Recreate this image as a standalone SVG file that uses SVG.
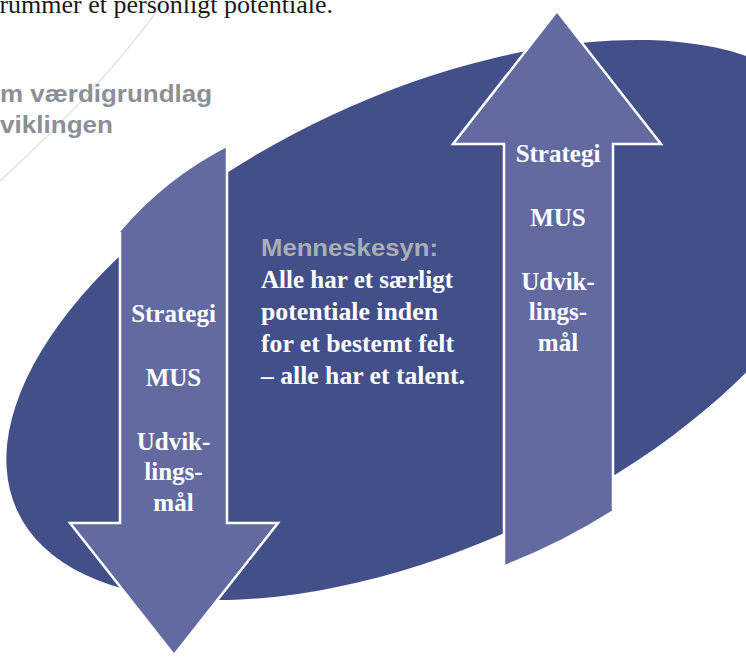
<svg xmlns="http://www.w3.org/2000/svg" width="746" height="657" viewBox="0 0 746 657">
  <style>
    .serif { font-family: "Liberation Serif", "DejaVu Serif", serif; }
    .sans { font-family: "Liberation Sans", Arial, sans-serif; font-weight: bold; }
    .arrowfill { fill: #626a9f; stroke: none; }
    .arrowline { fill: none; stroke: #ffffff; stroke-width: 2.5; stroke-linejoin: miter; stroke-miterlimit: 10; }
    .atext { fill: #ffffff; font-weight: bold; font-size: 25px; text-anchor: middle; }
    .ctext { fill: #ffffff; font-weight: bold; font-size: 25px; }
  </style>
  <rect width="746" height="657" fill="#ffffff"/>

  <g id="connectors">
    <path d="M165,0 Q105,85 0,181" fill="none" stroke="#dedede" stroke-width="1.3"/>
  </g>

  <g id="header-text">
    <text class="serif" x="333" y="13" font-size="26" fill="#1a1a1a" text-anchor="end">rummer et personligt potentiale.</text>
    <text class="sans" x="0" y="102" font-size="24" fill="#8b9097" textLength="212" lengthAdjust="spacingAndGlyphs">m værdigrundlag</text>
    <text class="sans" x="0" y="133" font-size="24" fill="#8b9097" textLength="113" lengthAdjust="spacingAndGlyphs">viklingen</text>
  </g>

  <g id="ellipse">
    <ellipse cx="427" cy="320" rx="452" ry="226" transform="rotate(-25 427 320)" fill="#434f89"/>
  </g>

  <g id="arrow-down">
    <path class="arrowfill" d="M120,232 Q165,179 227,147 L227,523 L278,523 L174,655 L70,523 L120,523 Z"/>
    <path class="arrowline" d="M120,232 L120,523 L70,523 L174,655 L278,523 L227,523 L227,147"/>
    <text class="serif atext" x="173.5" y="322">Strategi</text>
    <text class="serif atext" x="173.5" y="386">MUS</text>
    <text class="serif atext" x="173.5" y="450">Udvik-</text>
    <text class="serif atext" x="173.5" y="480">lings-</text>
    <text class="serif atext" x="173.5" y="511">mål</text>
  </g>

  <g id="arrow-up">
    <path class="arrowfill" d="M504,565 Q561,543 613,510 L613,144 L661,144 L557,11 L453,144 L504,144 Z"/>
    <path class="arrowline" d="M504,565 L504,144 L453,144 L557,11 L661,144 L613,144 L613,510"/>
    <text class="serif atext" x="558" y="162">Strategi</text>
    <text class="serif atext" x="558" y="226">MUS</text>
    <text class="serif atext" x="558" y="290">Udvik-</text>
    <text class="serif atext" x="558" y="320">lings-</text>
    <text class="serif atext" x="558" y="351">mål</text>
  </g>

  <g id="center-text">
    <text class="sans" x="261" y="256" font-size="24" fill="#a9aeb6" textLength="177" lengthAdjust="spacingAndGlyphs">Menneskesyn:</text>
    <text class="serif ctext" x="261" y="288" textLength="192" lengthAdjust="spacingAndGlyphs">Alle har et særligt</text>
    <text class="serif ctext" x="261" y="320" textLength="177" lengthAdjust="spacingAndGlyphs">potentiale inden</text>
    <text class="serif ctext" x="261" y="352" textLength="193" lengthAdjust="spacingAndGlyphs">for et bestemt felt</text>
    <text class="serif ctext" x="261" y="384" textLength="204" lengthAdjust="spacingAndGlyphs">– alle har et talent.</text>
  </g>
</svg>
